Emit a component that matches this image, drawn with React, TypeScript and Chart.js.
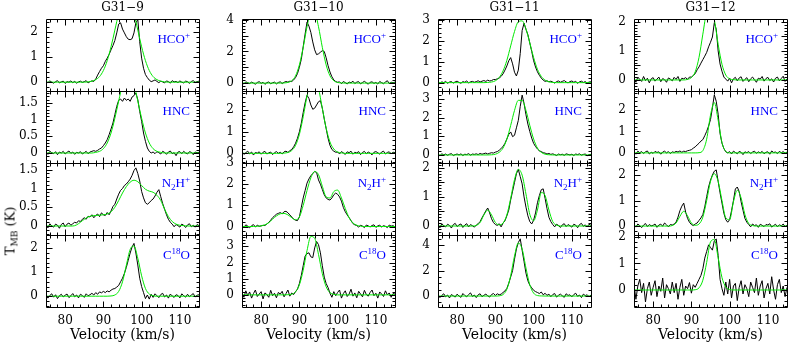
import React, { useEffect, useRef } from "react";
import { Chart, registerables } from "chart.js";
Chart.register(...registerables);

// ---------- velocity grids ----------
const chanVel = [
  75, 75.5, 76, 76.5, 77, 77.5, 78, 78.5, 79, 79.5,
  80, 80.5, 81, 81.5, 82, 82.5, 83, 83.5, 84, 84.5,
  85, 85.5, 86, 86.5, 87, 87.5, 88, 88.5, 89, 89.5,
  90, 90.5, 91, 91.5, 92, 92.5, 93, 93.5, 94, 94.5,
  95, 95.5, 96, 96.5, 97, 97.5, 98, 98.5, 99, 99.5,
  100, 100.5, 101, 101.5, 102, 102.5, 103, 103.5, 104, 104.5,
  105, 105.5, 106, 106.5, 107, 107.5, 108, 108.5, 109, 109.5,
  110, 110.5, 111, 111.5, 112, 112.5, 113, 113.5, 114, 114.5,
  115,
];
const fitVel = [
  75, 76, 77, 78, 79, 80, 81, 82, 83, 84,
  85, 86, 87, 88, 89, 90, 91, 92, 93, 94,
  95, 96, 97, 98, 99, 100, 101, 102, 103, 104,
  105, 106, 107, 108, 109, 110, 111, 112, 113, 114,
  115,
];
const xTickValues = [80, 90, 100, 110];
const sourceNames = ["G31\u22129", "G31\u221210", "G31\u221211", "G31\u221212"];

// ---------- G31-9 ----------
const g9HcoObs = [
  0.03,-0.02,0.05,0.00,-0.04,0.02,0.06,-0.03,0.01,0.04,
  -0.05,0.02,0.00,0.05,-0.02,0.03,-0.04,0.01,0.04,-0.01,
  0.02,0.06,-0.03,0.02,0.05,0.03,0.12,0.28,0.42,0.55,
  0.65,0.82,0.95,1.10,1.28,1.45,1.65,1.95,2.30,2.35,
  2.10,1.95,1.80,1.70,1.68,1.72,1.95,2.35,2.48,1.60,
  0.95,0.55,0.30,0.18,0.08,0.02,0.05,0.09,0.03,-0.02,
  0.04,0.01,-0.03,0.05,0.02,-0.04,0.06,0.01,0.03,-0.02,
  0.05,0.00,-0.03,0.04,0.02,-0.05,0.03,0.06,-0.01,0.02,
  0.04,
];
const g9HcoFit = [
  0,0,0,0,0,0,0,0,0,0,
  0,0.01,0.04,0.10,0.22,0.46,0.85,1.40,2.06,2.72,
  3.22,3.40,3.22,2.72,2.06,1.40,0.85,0.46,0.22,0.10,
  0.04,0.01,0,0,0,0,0,0,0,0,
  0,
];
const g9HncObs = [
  0.02,-0.04,0.05,0.01,-0.02,0.04,-0.05,0.03,0.00,0.05,
  -0.03,0.02,0.06,-0.01,0.03,-0.04,0.02,0.00,0.04,-0.03,
  0.01,0.05,-0.02,0.03,0.05,0.07,0.05,0.08,0.12,0.15,
  0.22,0.30,0.40,0.55,0.72,0.90,1.15,1.40,1.58,1.62,
  1.55,1.65,1.58,1.62,1.55,1.68,1.72,1.80,1.60,1.25,
  0.95,0.60,0.35,0.15,0.05,0.00,0.03,-0.02,0.04,0.01,
  -0.03,0.05,0.02,-0.04,0.03,0.06,-0.02,0.01,-0.08,0.03,
  0.04,-0.02,0.05,0.00,-0.03,0.04,0.02,-0.05,0.03,0.01,
  0.02,
];
const g9HncFit = [
  0,0,0,0,0,0,0,0,0,0,
  0,0,0,0.02,0.05,0.13,0.30,0.60,1.04,1.56,
  2.06,2.36,2.36,2.06,1.56,1.04,0.60,0.30,0.13,0.05,
  0.02,0,0,0,0,0,0,0,0,0,
  0,
];
const g9N2hObs = [
  0.03,-0.05,0.06,0.00,-0.03,0.05,0.02,-0.06,0.04,0.08,
  -0.02,0.05,0.08,0.02,0.06,0.10,0.08,0.14,0.12,0.18,
  0.22,0.18,0.26,0.24,0.30,0.22,0.28,0.32,0.25,0.35,
  0.30,0.28,0.36,0.30,0.40,0.52,0.58,0.72,0.85,0.95,
  1.00,1.08,1.12,1.18,1.25,1.35,1.48,1.55,1.40,1.20,
  0.92,0.75,0.62,0.58,0.62,0.68,0.72,0.80,0.90,0.97,
  0.78,0.60,0.45,0.30,0.18,0.10,0.05,-0.02,0.04,0.01,
  -0.03,0.05,0.02,-0.04,0.03,0.06,-0.02,0.02,-0.03,0.04,
  0.01,
];
const g9N2hFit = [
  0,0,0,0,0,0,0,0,0.03,0.10,
  0.18,0.24,0.27,0.28,0.29,0.30,0.32,0.38,0.50,0.68,
  0.88,1.05,1.17,1.22,1.18,1.08,0.98,0.93,0.90,0.82,
  0.68,0.45,0.25,0.12,0.05,0.02,0.01,0,0,0,
  0,
];
const g9C18Obs = [
  0.05,-0.08,0.03,0.10,-0.04,0.06,-0.10,0.02,0.08,-0.03,
  0.04,0.09,-0.06,0.02,0.11,-0.02,0.05,-0.07,0.08,0.03,
  -0.05,0.10,0.02,0.06,0.12,0.05,0.15,0.08,0.18,0.14,
  0.20,0.15,0.22,0.18,0.25,0.30,0.32,0.38,0.45,0.60,
  0.75,0.95,1.20,1.50,1.80,2.05,2.20,1.80,1.30,0.75,
  0.40,0.15,-0.10,0.05,-0.12,0.08,-0.05,0.10,0.02,-0.06,
  0.07,0.12,-0.03,0.05,-0.08,0.09,0.01,-0.05,0.06,0.03,
  -0.07,0.10,0.02,-0.04,0.08,-0.02,0.05,0.11,-0.03,0.04,
  0.06,
];
const g9C18Fit = [
  0,0,0,0,0,0,0,0,0,0,
  0,0,0,0,0,0,0,0.01,0.05,0.20,
  0.60,1.29,1.95,2.09,1.58,0.85,0.32,0.09,0.02,0,
  0,0,0,0,0,0,0,0,0,0,
  0,
];

// ---------- G31-10 ----------
const g10HcoObs = [
  0.05,-0.06,0.08,0.02,-0.03,0.06,0.00,-0.07,0.04,0.09,
  -0.02,0.05,-0.08,0.03,0.07,-0.04,0.02,0.06,-0.05,0.04,
  0.08,-0.03,0.05,0.10,0.06,0.12,0.10,0.20,0.35,0.60,
  1.00,1.50,2.30,3.10,3.85,3.60,3.20,2.60,2.10,1.80,
  1.85,1.95,2.05,2.00,1.60,1.10,0.70,0.40,0.20,0.10,
  0.05,0.08,-0.04,0.10,0.03,-0.06,0.07,0.02,0.12,-0.03,
  0.06,0.09,-0.05,0.04,0.11,0.02,-0.07,0.05,0.08,-0.02,
  0.04,-0.06,0.10,0.03,-0.04,0.07,0.15,-0.03,0.05,0.02,
  0.06,
];
const g10HcoFit = [
  0,0,0,0,0,0,0,0,0,0,
  0,0.01,0.04,0.15,0.46,1.15,2.26,3.56,4.47,4.47,
  3.56,2.26,1.15,0.46,0.15,0.04,0.01,0,0,0,
  0,0,0,0,0,0,0,0,0,0,
  0,
];
const g10HncObs = [
  0.08,-0.05,0.03,0.10,-0.02,0.06,-0.08,0.04,0.01,0.07,
  -0.04,0.05,0.09,-0.03,0.02,0.06,-0.06,0.03,0.08,0.00,
  0.05,-0.03,0.07,0.10,0.04,0.12,0.18,0.30,0.47,0.70,
  1.00,1.40,1.90,2.35,2.70,2.55,2.25,2.05,2.10,2.25,
  2.40,2.45,2.10,1.60,1.15,0.70,0.37,0.18,0.10,0.05,
  0.06,-0.03,0.08,0.02,-0.05,0.07,0.03,0.10,-0.04,0.05,
  0.02,0.08,-0.06,0.04,0.09,-0.02,0.06,0.01,-0.07,0.05,
  0.08,0.03,-0.04,0.06,0.10,-0.03,0.04,0.07,-0.02,0.05,
  0.03,
];
const g10HncFit = [
  0,0,0,0,0,0,0,0,0,0,
  0,0.01,0.04,0.13,0.37,0.88,1.70,2.67,3.43,3.57,
  3.03,2.09,1.17,0.53,0.20,0.06,0.02,0,0,0,
  0,0,0,0,0,0,0,0,0,0,
  0,
];
const g10N2hObs = [
  0.05,-0.04,0.08,0.02,-0.06,0.04,0.09,-0.02,0.06,0.01,
  0.03,0.06,0.05,0.12,0.20,0.30,0.42,0.50,0.58,0.62,
  0.66,0.60,0.70,0.72,0.65,0.55,0.45,0.35,0.30,0.28,
  0.45,0.90,1.35,1.70,2.05,2.25,2.40,2.50,2.60,2.55,
  2.20,2.00,1.75,1.50,1.35,1.28,1.25,1.35,1.50,1.58,
  1.52,1.40,1.20,0.90,0.70,0.55,0.42,0.28,0.14,0.08,
  0.05,-0.03,0.06,0.02,-0.05,0.07,0.03,-0.02,0.05,0.08,
  -0.04,0.03,0.06,-0.02,0.04,0.01,-0.05,0.07,0.02,0.04,
  -0.02,
];
const g10N2hFit = [
  0,0,0,0,0.01,0.03,0.08,0.18,0.35,0.50,
  0.60,0.62,0.55,0.42,0.32,0.45,1.00,1.70,2.30,2.60,
  2.45,1.90,1.40,1.35,1.65,1.72,1.35,0.85,0.42,0.17,
  0.06,0.02,0,0,0,0,0,0,0,0,
  0,
];
const g10C18Obs = [
  0.10,-0.15,0.25,-0.05,0.18,-0.20,0.08,0.30,-0.10,0.05,
  0.20,-0.25,0.12,0.02,-0.15,0.28,-0.05,0.10,-0.18,0.15,
  0.05,0.22,-0.12,0.08,0.30,-0.08,0.12,0.02,0.20,0.35,
  0.70,1.20,1.80,2.40,2.55,2.60,2.35,2.30,2.90,3.30,
  3.10,2.60,1.80,1.10,0.70,0.45,0.10,-0.15,0.20,-0.05,
  0.15,0.30,-0.20,0.08,0.25,-0.10,0.05,0.35,-0.08,0.12,
  -0.18,0.22,0.05,-0.12,0.28,0.02,-0.08,0.15,0.30,-0.05,
  0.10,-0.20,0.18,0.05,-0.10,0.25,0.00,0.12,-0.15,0.08,
  0.05,
];
const g10C18Fit = [
  0,0,0,0,0,0,0,0,0,0,
  0,0,0.01,0.04,0.19,0.62,1.52,2.74,3.61,3.50,
  2.50,1.31,0.50,0.14,0.03,0,0,0,0,0,
  0,0,0,0,0,0,0,0,0,0,
  0,
];

// ---------- G31-11 ----------
const g11HcoObs = [
  0.02,-0.05,0.04,0.00,0.06,-0.03,0.03,0.05,-0.02,0.04,
  0.07,0.01,-0.03,0.05,0.02,0.08,-0.01,0.04,0.06,0.02,
  0.05,0.09,0.03,0.07,0.10,0.06,0.12,0.08,0.10,0.15,
  0.15,0.18,0.22,0.30,0.42,0.60,0.80,1.05,1.20,0.90,
  0.50,0.32,0.60,1.40,2.50,2.85,2.55,2.30,1.90,1.50,
  1.05,0.75,0.52,0.35,0.22,0.12,0.06,0.09,0.04,0.07,
  0.03,-0.02,0.05,0.08,0.02,0.06,0.10,0.03,-0.01,0.05,
  0.08,0.02,0.06,-0.03,0.04,0.07,0.01,0.05,-0.02,0.03,
  0.04,
];
const g11HcoFit = [
  0,0,0,0,0,0,0,0,0,0,
  0,0,0,0.01,0.03,0.09,0.25,0.56,1.07,1.76,
  2.45,2.92,2.96,2.57,1.90,1.20,0.64,0.30,0.12,0.04,
  0.01,0,0,0,0,0,0,0,0,0,
  0,
];
const g11HncObs = [
  0.03,-0.04,0.06,0.01,0.05,-0.02,0.04,0.07,-0.03,0.02,
  0.05,0.00,0.06,-0.03,0.04,0.02,0.07,-0.01,0.05,0.03,
  0.06,0.02,0.08,0.04,0.07,0.10,0.05,0.09,0.12,0.10,
  0.15,0.18,0.25,0.35,0.45,0.62,0.85,1.10,1.23,0.98,
  1.05,1.45,1.85,2.60,3.20,2.75,2.15,1.65,1.25,0.90,
  0.62,0.45,0.32,0.22,0.18,0.12,0.10,0.05,0.08,0.03,
  0.06,0.02,-0.03,0.05,0.01,0.04,-0.02,0.06,0.03,0.00,
  0.04,-0.03,0.05,0.02,0.06,-0.01,0.03,0.05,-0.04,0.02,
  0.03,
];
const g11HncFit = [
  0,0,0,0,0,0,0,0,0,0,
  0,0,0,0,0.01,0.04,0.14,0.37,0.85,1.58,
  2.38,2.92,2.92,2.38,1.58,0.85,0.37,0.14,0.04,0.01,
  0,0,0,0,0,0,0,0,0,0,
  0,
];
const g11N2hObs = [
  0.04,-0.06,0.08,0.01,-0.03,0.06,0.02,-0.07,0.05,0.09,
  -0.02,0.04,0.07,-0.05,0.03,0.08,-0.03,0.05,0.01,-0.04,
  0.03,0.08,0.15,0.28,0.40,0.52,0.62,0.45,0.25,0.12,
  0.05,0.02,0.08,-0.03,0.10,0.18,0.35,0.55,0.90,1.20,
  1.50,1.80,1.95,1.70,1.45,1.00,0.65,0.35,0.15,0.07,
  0.20,0.45,0.80,1.05,1.25,1.28,0.95,0.60,0.30,0.15,
  0.05,-0.03,0.06,0.02,-0.05,0.04,0.08,-0.02,0.05,0.01,
  -0.04,0.06,0.03,-0.06,0.05,0.09,-0.01,0.04,-0.03,0.06,
  0.02,
];
const g11N2hFit = [
  0,0,0,0,0,0,0,0,0,0,
  0.02,0.12,0.38,0.55,0.38,0.12,0.04,0.10,0.38,0.95,
  1.60,1.95,1.75,1.10,0.40,0.18,0.55,1.15,1.05,0.55,
  0.15,0.03,0,0,0,0,0,0,0,0,
  0,
];
const g11C18Obs = [
  0.10,-0.12,0.05,0.18,-0.05,0.08,-0.15,0.12,0.02,-0.08,
  0.15,0.00,-0.10,0.20,0.05,-0.06,0.12,0.25,-0.03,0.08,
  -0.12,0.10,0.18,-0.05,0.06,0.15,0.02,-0.08,0.12,0.20,
  0.05,0.18,0.10,0.15,0.28,0.40,0.60,1.00,1.50,2.00,
  2.90,3.70,4.20,4.50,3.60,2.70,1.80,1.20,0.85,0.65,
  0.45,0.35,0.28,0.20,0.32,0.10,0.22,0.05,0.15,-0.05,
  0.12,0.20,-0.08,0.06,0.15,0.02,-0.10,0.18,0.05,0.10,
  -0.06,0.12,0.22,-0.02,0.08,-0.12,0.15,0.04,0.10,-0.05,
  0.08,
];
const g11C18Fit = [
  0,0,0,0,0,0,0,0,0,0,
  0,0,0,0,0,0,0.02,0.12,0.54,1.60,
  3.15,4.17,3.69,2.20,0.88,0.23,0.04,0.01,0,0,
  0,0,0,0,0,0,0,0,0,0,
  0,
];

// ---------- G31-12 ----------
const g12HcoObs = [
  0.05,-0.08,0.10,0.02,-0.05,0.12,-0.02,0.06,-0.10,0.04,
  0.08,-0.04,0.03,0.10,-0.06,0.05,0.01,-0.08,0.07,0.03,
  -0.03,0.09,0.02,0.12,-0.05,0.06,0.04,0.08,0.02,0.10,
  0.10,0.15,0.22,0.35,0.45,0.58,0.70,0.82,0.95,1.14,
  1.30,1.48,1.97,1.75,1.00,0.55,0.30,0.10,0.03,-0.04,
  0.06,-0.10,0.04,0.09,-0.03,0.07,0.11,-0.05,0.02,0.08,
  -0.06,0.04,0.10,0.01,-0.08,0.06,0.03,0.12,-0.04,0.05,
  0.09,-0.02,0.04,-0.07,0.06,0.10,-0.03,0.05,0.13,-0.05,
  0.04,
];
const g12HcoFit = [
  0,0,0,0,0,0,0,0,0,0,
  0,0,0,0,0.02,0.08,0.28,0.78,1.58,2.36,
  2.58,2.08,1.23,0.54,0.17,0.04,0.01,0,0,0,
  0,0,0,0,0,0,0,0,0,0,
  0,
];
const g12HncObs = [
  0.04,-0.06,0.08,0.01,0.06,-0.03,0.05,0.09,-0.05,0.03,
  -0.02,0.07,0.02,0.05,-0.06,0.04,0.08,0.00,0.06,-0.03,
  0.05,0.02,0.07,0.04,0.09,0.03,0.08,0.06,0.10,0.12,
  0.15,0.22,0.28,0.37,0.45,0.55,0.62,0.80,1.00,1.25,
  1.55,2.10,2.70,2.40,1.80,0.90,0.45,0.20,0.05,0.00,
  0.06,-0.05,0.08,0.02,-0.04,0.07,0.03,-0.08,0.05,0.01,
  0.06,-0.03,0.04,0.08,-0.02,0.05,0.00,0.07,-0.04,0.03,
  0.05,-0.06,0.09,0.02,0.04,-0.03,0.07,0.01,0.06,-0.02,
  0.04,
];
const g12HncFit = [
  0,0,0,0,0,0,0,0,0,0,
  0,0,0,0,0,0,0,0.01,0.11,0.64,
  1.76,2.34,1.52,0.48,0.07,0,0,0,0,0,
  0,0,0,0,0,0,0,0,0,0,
  0,
];
const g12N2hObs = [
  0.05,-0.04,0.08,0.02,-0.06,0.04,0.10,-0.02,0.06,0.01,
  0.03,0.08,-0.05,0.04,0.07,0.00,0.12,0.05,-0.03,0.06,
  0.04,0.08,0.15,0.35,0.60,0.78,0.90,0.55,0.30,0.15,
  0.06,0.02,0.08,0.12,0.22,0.32,0.45,0.75,1.15,1.53,
  1.80,2.00,2.15,2.20,1.75,1.30,0.90,0.50,0.25,0.15,
  0.25,0.60,1.00,1.45,1.53,1.35,0.95,0.62,0.30,0.15,
  0.06,-0.03,0.08,0.02,0.05,-0.05,0.07,0.03,-0.02,0.06,
  0.04,0.09,-0.04,0.02,0.07,-0.03,0.05,0.01,0.08,-0.02,
  0.03,
];
const g12N2hFit = [
  0,0,0,0,0,0,0,0,0,0,
  0.02,0.12,0.38,0.58,0.40,0.12,0.03,0.08,0.35,1.00,
  1.75,2.05,1.75,1.00,0.32,0.25,0.95,1.40,1.10,0.45,
  0.10,0.02,0,0,0,0,0,0,0,0,
  0,
];
const g12C18Obs = [
  0.20,-0.35,0.15,0.40,-0.10,0.25,-0.45,0.05,0.30,-0.20,
  0.10,0.35,-0.25,0.15,-0.05,0.45,-0.30,0.20,0.05,-0.15,
  0.30,-0.10,0.25,-0.35,0.10,0.40,-0.20,0.15,0.05,0.28,
  -0.12,0.20,0.10,0.25,0.40,0.55,0.80,1.20,1.45,1.70,
  1.60,1.50,1.85,1.92,1.30,0.40,0.05,-0.20,0.30,-0.15,
  0.40,-0.30,0.15,0.25,-0.40,0.10,0.35,-0.15,0.20,0.05,
  -0.25,0.30,0.10,-0.10,0.45,-0.20,0.15,0.35,-0.30,0.05,
  0.25,-0.15,0.50,0.00,-0.35,0.20,0.40,-0.10,0.15,-0.25,
  0.10,
];
const g12C18Fit = [
  0,0,0,0,0,0,0,0,0,0,
  0,0,0,0,0,0,0.01,0.08,0.37,1.04,
  1.81,1.90,1.21,0.47,0.11,0.02,0,0,0,0,
  0,0,0,0,0,0,0,0,0,0,
  0,
];

// ---------- y-axis ranges and tick labels (rows: HCO+, HNC, N2H+, C18O) ----------
const yMinG9 = [-0.35, -0.3, -0.24, -0.45];
const yMaxG9 = [2.5, 1.86, 1.68, 2.55];
const yTicksG9 = [[0, 1, 2], [0, 0.5, 1, 1.5], [0, 0.5, 1, 1.5], [0, 1, 2]];
const yMinG10 = [-0.5, -0.45, -0.4, -0.75];
const yMaxG10 = [4.05, 2.9, 3.0, 3.7];
const yTicksG10 = [[0, 1, 2, 3, 4], [0, 1, 2], [0, 1, 2, 3], [0, 1, 2, 3]];
const yMinG11 = [-0.4, -0.43, -0.31, -0.86];
const yMaxG11 = [3.05, 3.42, 2.17, 4.8];
const yTicksG11 = [[0, 1, 2, 3], [0, 1, 2, 3], [0, 0.5, 1, 1.5, 2], [0, 2, 4]];
const yMinG12 = [-0.38, -0.47, -0.35, -0.64];
const yMaxG12 = [2.1, 2.88, 2.47, 2.07];
const yTicksG12 = [[0, 0.5, 1, 1.5, 2], [0, 1, 2], [0, 1, 2], [0, 1, 2]];

// ---------- layout ----------
const COL_LEFT = [46, 242, 438, 634];
const ROW_TOP = [19, 91, 163, 235];
const PW = 153;
const PH = 72;
const AXW = 40;
const PAD_T = 10;
const PAD_B = 4;
const PAD_R = 4;
const XAXH = 42;
const SERIF = "'DejaVu Serif', serif";

const obsByCol = [
  [g9HcoObs, g9HncObs, g9N2hObs, g9C18Obs],
  [g10HcoObs, g10HncObs, g10N2hObs, g10C18Obs],
  [g11HcoObs, g11HncObs, g11N2hObs, g11C18Obs],
  [g12HcoObs, g12HncObs, g12N2hObs, g12C18Obs],
];
const fitByCol = [
  [g9HcoFit, g9HncFit, g9N2hFit, g9C18Fit],
  [g10HcoFit, g10HncFit, g10N2hFit, g10C18Fit],
  [g11HcoFit, g11HncFit, g11N2hFit, g11C18Fit],
  [g12HcoFit, g12HncFit, g12N2hFit, g12C18Fit],
];
const yMinByCol = [yMinG9, yMinG10, yMinG11, yMinG12];
const yMaxByCol = [yMaxG9, yMaxG10, yMaxG11, yMaxG12];
const yTicksByCol = [yTicksG9, yTicksG10, yTicksG11, yTicksG12];
const yMinorByCol = [
  [0.2, 0.1, 0.1, 0.2],
  [0.2, 0.2, 0.2, 0.2],
  [0.2, 0.2, 0.1, 0.5],
  [0.1, 0.2, 0.2, 0.2],
];

const frameTicks = {
  id: "frameTicks",
  afterDraw(chart: any) {
    const o = chart.options.plugins.frameTicks;
    const { ctx, chartArea } = chart;
    const lx = chartArea.left + 0.5;
    const rx = chartArea.right + 0.5;
    const ty = chartArea.top + 0.5;
    const by = chartArea.bottom + 0.5;
    const xs = chart.scales.x;
    const ys = chart.scales.y;
    ctx.save();
    ctx.strokeStyle = "#000";
    ctx.lineWidth = 1;
    ctx.beginPath();
    ctx.rect(lx, ty, rx - lx, by - ty);
    for (let k = Math.ceil(xs.min / o.xMinor); k * o.xMinor < xs.max; k++) {
      const v = k * o.xMinor;
      if (v <= xs.min) continue;
      const px = Math.round(xs.getPixelForValue(v)) + 0.5;
      const len = v % o.xMajor === 0 ? 6 : 3;
      ctx.moveTo(px, by);
      ctx.lineTo(px, by - len);
      ctx.moveTo(px, ty);
      ctx.lineTo(px, ty + len);
    }
    for (let k = Math.ceil(ys.min / o.yMinor - 1e-9); k * o.yMinor < ys.max - 1e-9; k++) {
      const v = k * o.yMinor;
      if (v <= ys.min) continue;
      const isMajor = o.yMajor.some((m: number) => Math.abs(m - v) < 1e-6);
      const py = Math.round(ys.getPixelForValue(v)) + 0.5;
      const len = isMajor ? 6 : 3;
      ctx.moveTo(lx, py);
      ctx.lineTo(lx + len, py);
      ctx.moveTo(rx, py);
      ctx.lineTo(rx - len, py);
    }
    ctx.stroke();
    ctx.restore();
  },
};

function Panel({ col, row }: { col: number; row: number }) {
  const ref = useRef<HTMLCanvasElement>(null);
  const isBottom = row === 3;
  const L = COL_LEFT[col];
  const T = ROW_TOP[row];
  const w = AXW + PW + PAD_R;
  const h = PAD_T + PH + (isBottom ? XAXH : PAD_B);

  useEffect(() => {
    const obs = obsByCol[col][row];
    const fit = fitByCol[col][row];
    const yt = yTicksByCol[col][row];
    const chart = new Chart(ref.current as HTMLCanvasElement, {
      type: "line",
      data: {
        datasets: [
          {
            data: fitVel.map((v, i) => ({ x: v, y: fit[i] })),
            borderColor: "#00e800",
            borderWidth: 1,
            pointRadius: 0,
            cubicInterpolationMode: "monotone",
            order: 0,
          },
          {
            data: chanVel.map((v, i) => ({ x: v, y: obs[i] })),
            borderColor: "#000000",
            borderWidth: 1,
            pointRadius: 0,
            tension: 0,
            order: 1,
          },
        ],
      },
      options: {
        responsive: false,
        animation: false,
        events: [],
        layout: { padding: { top: PAD_T, right: PAD_R, bottom: isBottom ? 0 : PAD_B, left: 0 } },
        plugins: {
          legend: { display: false },
          tooltip: { enabled: false },
          frameTicks: { xMinor: 2, xMajor: 10, yMinor: yMinorByCol[col][row], yMajor: yt },
        } as any,
        scales: {
          x: {
            type: "linear",
            min: 75,
            max: 115,
            display: isBottom,
            afterBuildTicks: (s: any) => {
              s.ticks = xTickValues.map((v) => ({ value: v }));
            },
            afterFit: (s: any) => {
              if (isBottom) s.height = XAXH;
              else s.height = 0;
              s.paddingLeft = 0;
              s.paddingRight = 0;
            },
            ticks: {
              font: { family: SERIF, size: 12 },
              color: "#000",
              padding: 7,
              maxRotation: 0,
              autoSkip: false,
            },
            grid: { display: false, drawTicks: false },
            border: { display: false },
          },
          y: {
            type: "linear",
            min: yMinByCol[col][row],
            max: yMaxByCol[col][row],
            afterBuildTicks: (s: any) => {
              s.ticks = yt.map((v) => ({ value: v }));
            },
            afterFit: (s: any) => {
              s.width = AXW;
              s.paddingTop = 0;
              s.paddingBottom = 0;
            },
            ticks: {
              font: { family: SERIF, size: 12 },
              color: "#000",
              padding: 8,
              callback: (v: any) => String(Number(Number(v).toFixed(2))),
            },
            grid: { display: false, drawTicks: false },
            border: { display: false },
          },
        },
      } as any,
      plugins: [frameTicks as any],
    });
    return () => chart.destroy();
  }, []);

  return (
    <canvas
      ref={ref}
      width={w}
      height={h}
      style={{ position: "absolute", left: L - AXW, top: T - PAD_T, width: w, height: h }}
    />
  );
}

const supStyle: React.CSSProperties = { fontSize: 9, position: "relative", top: -5 };
const subStyle: React.CSSProperties = { fontSize: 9, position: "relative", top: 3 };

function LineLabel({ row }: { row: number }) {
  if (row === 0) return <>HCO<span style={supStyle}>+</span></>;
  if (row === 1) return <>HNC</>;
  if (row === 2) return <>N<span style={subStyle}>2</span>H<span style={supStyle}>+</span></>;
  return <>C<span style={supStyle}>18</span>O</>;
}

export default function App() {
  useEffect(() => {
    document.body.style.margin = "0";
  }, []);
  const cols = [0, 1, 2, 3];
  const rows = [0, 1, 2, 3];
  return (
    <div
      style={{
        position: "fixed",
        left: 0,
        top: 0,
        width: 789,
        height: 342,
        background: "#fff",
        overflow: "hidden",
      }}
    >
      {cols.map((c) => rows.map((r) => <Panel key={`${c}-${r}`} col={c} row={r} />))}
      {cols.map((c) => (
        <div
          key={`t${c}`}
          style={{
            position: "absolute",
            left: COL_LEFT[c],
            width: PW,
            top: 0,
            height: 14,
            lineHeight: "14px",
            textAlign: "center",
            font: `12px ${SERIF}`,
            color: "#000",
          }}
        >
          {sourceNames[c]}
        </div>
      ))}
      {cols.map((c) => (
        <div
          key={`v${c}`}
          style={{
            position: "absolute",
            left: COL_LEFT[c],
            width: PW,
            top: 326,
            height: 16,
            lineHeight: "16px",
            textAlign: "center",
            font: `14px ${SERIF}`,
            color: "#000",
            whiteSpace: "nowrap",
          }}
        >
          Velocity (km/s)
        </div>
      ))}
      {cols.map((c) =>
        rows.map((r) => (
          <div
            key={`l${c}-${r}`}
            style={{
              position: "absolute",
              right: 789 - (COL_LEFT[c] + PW - 9),
              top: ROW_TOP[r] + 12,
              height: 16,
              lineHeight: "16px",
              textAlign: "right",
              font: "13px 'Liberation Serif', serif",
              color: "#0000ff",
              whiteSpace: "nowrap",
            }}
          >
            <LineLabel row={r} />
          </div>
        ))
      )}
      <div
        style={{
          position: "absolute",
          left: 10,
          top: 231,
          transform: "translate(-50%, -50%) rotate(-90deg)",
          font: `13px ${SERIF}`,
          color: "#000",
          whiteSpace: "nowrap",
        }}
      >
        T<span style={{ fontSize: 9, position: "relative", top: 3 }}>MB</span> (K)
      </div>
    </div>
  );
}
